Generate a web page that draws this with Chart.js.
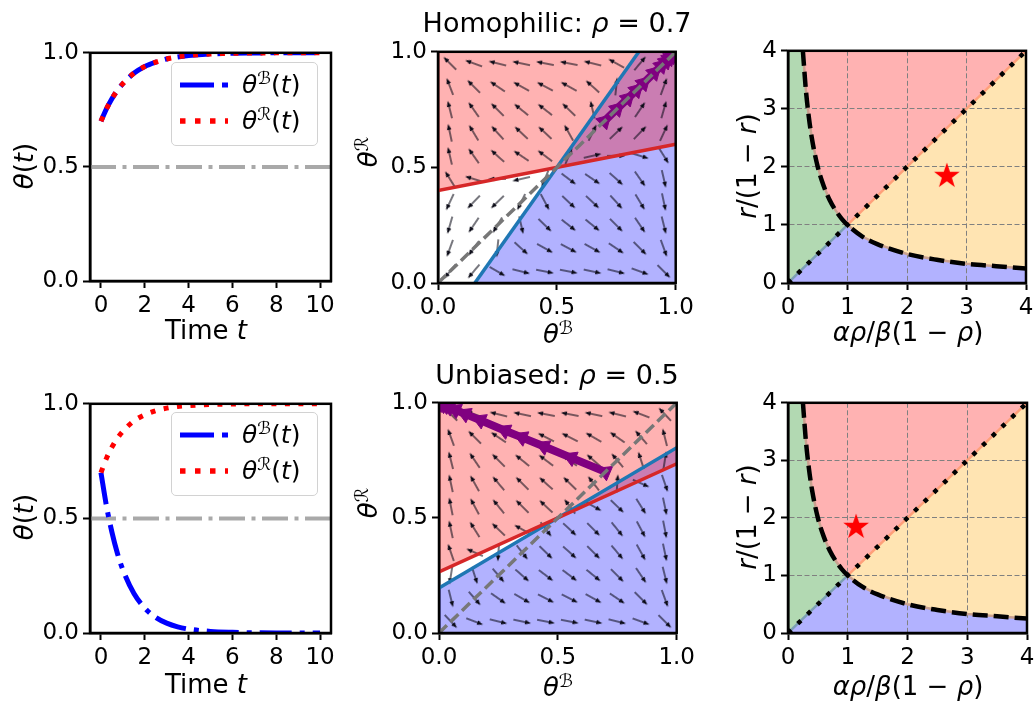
<!DOCTYPE html>
<html>
<head>
<meta charset="utf-8">
<script src="https://cdn.jsdelivr.net/npm/chart.js"></script>
<style>
  html, body { margin: 0; padding: 0; background: #fff; }
  #fig { position: relative; width: 1035px; height: 704px; overflow: hidden; font-family: 'DejaVu Sans', sans-serif; color: #000; }
  canvas { position: absolute; }
  .lbl { position: absolute; font-size: 26px; line-height: 1; white-space: nowrap; transform: translate(-50%, -50%); }
  .rot { transform: translate(-50%, -50%) rotate(-90deg); }
  .ttl { font-size: 27px; }
  .sup { font-size: 0.7em; position: relative; top: -0.5em; }
  .legend { position: absolute; width: 145px; height: 82px; border: 1.5px solid #d2d2d2; border-radius: 5px; background: rgba(255,255,255,0.8); }
  .legend svg { position: absolute; left: 8px; }
  .legend .txt { position: absolute; left: 70px; font-size: 25px; line-height: 1; white-space: nowrap; }
</style>
</head>
<body>
<div id="fig">
  <canvas id="c1"></canvas>
  <canvas id="c2"></canvas>
  <canvas id="c3"></canvas>
  <canvas id="c4"></canvas>
  <canvas id="c5"></canvas>
  <canvas id="c6"></canvas>

  <div class="lbl ttl" style="left:557px;top:22px">Homophilic: <i>ρ</i> = 0.7</div>
  <div class="lbl ttl" style="left:557px;top:374px">Unbiased: <i>ρ</i> = 0.5</div>

  <div class="lbl rot" style="left:24px;top:166px"><i>θ</i>(<i>t</i>)</div>
  <div class="lbl" style="left:206px;top:330px">Time <i>t</i></div>
  <div class="lbl rot" style="left:368px;top:152px"><i>θ</i><span class="sup">ℛ</span></div>
  <div class="lbl" style="left:558px;top:334px"><i>θ</i><span class="sup">ℬ</span></div>
  <div class="lbl rot" style="left:747px;top:166px"><i>r</i>/(1 − <i>r</i>)</div>
  <div class="lbl" style="left:908px;top:332px"><i>αρ</i>/<i>β</i>(1 − <i>ρ</i>)</div>

  <div class="lbl rot" style="left:24px;top:517px"><i>θ</i>(<i>t</i>)</div>
  <div class="lbl" style="left:206px;top:684px">Time <i>t</i></div>
  <div class="lbl rot" style="left:368px;top:503px"><i>θ</i><span class="sup">ℛ</span></div>
  <div class="lbl" style="left:558px;top:687px"><i>θ</i><span class="sup">ℬ</span></div>
  <div class="lbl rot" style="left:747px;top:517px"><i>r</i>/(1 − <i>r</i>)</div>
  <div class="lbl" style="left:908px;top:686px"><i>αρ</i>/<i>β</i>(1 − <i>ρ</i>)</div>

  <div class="legend" style="left:171px;top:62px">
    <svg width="50" height="8" style="top:18px"><line x1="0" y1="4" x2="48" y2="4" stroke="#0000ff" stroke-width="5" stroke-dasharray="34 8 6 8"/></svg>
    <div class="txt" style="top:9px"><i>θ</i><span class="sup">ℬ</span>(<i>t</i>)</div>
    <svg width="50" height="8" style="top:54px"><line x1="0" y1="4" x2="48" y2="4" stroke="#ff0000" stroke-width="5.5" stroke-dasharray="5.5 9.5"/></svg>
    <div class="txt" style="top:45px"><i>θ</i><span class="sup">ℛ</span>(<i>t</i>)</div>
  </div>
  <div class="legend" style="left:171px;top:412px">
    <svg width="50" height="8" style="top:18px"><line x1="0" y1="4" x2="48" y2="4" stroke="#0000ff" stroke-width="5" stroke-dasharray="34 8 6 8"/></svg>
    <div class="txt" style="top:9px"><i>θ</i><span class="sup">ℬ</span>(<i>t</i>)</div>
    <svg width="50" height="8" style="top:54px"><line x1="0" y1="4" x2="48" y2="4" stroke="#ff0000" stroke-width="5.5" stroke-dasharray="5.5 9.5"/></svg>
    <div class="txt" style="top:45px"><i>θ</i><span class="sup">ℛ</span>(<i>t</i>)</div>
  </div>
</div>

<script>
// ---------- values ----------
const timeT = [0, 0.25, 0.5, 0.75, 1, 1.5, 2, 2.5, 3, 3.5, 4, 5, 6, 7, 8, 9, 10];
const homoThetaB = [0.700, 0.754, 0.799, 0.835, 0.865, 0.910, 0.940, 0.959, 0.973, 0.982, 0.988, 0.995, 0.998, 0.999, 1, 1, 1];
const homoThetaR = [0.700, 0.754, 0.799, 0.835, 0.865, 0.910, 0.940, 0.959, 0.973, 0.982, 0.988, 0.995, 0.998, 0.999, 1, 1, 1];
const unbThetaB = [0.700, 0.555, 0.440, 0.348, 0.276, 0.173, 0.109, 0.068, 0.043, 0.027, 0.017, 0.007, 0.003, 0.001, 0, 0, 0];
const unbThetaR = [0.700, 0.762, 0.811, 0.850, 0.880, 0.925, 0.952, 0.970, 0.981, 0.988, 0.992, 0.997, 0.999, 1, 1, 1, 1];
const refLevel = 0.5;

const timeRange = [-0.5, 10.5];
const timeTicks = [0, 2, 4, 6, 8, 10];
const unitRange = [0, 1];
const unitTicks = [0, 0.5, 1];
const ratioRange = [0, 4];
const ratioTicks = [0, 1, 2, 3, 4];

// nullclines of the phase portraits (where they meet the frame)
const homoBlueLine = [{x: 0.155, y: 0}, {x: 0.845, y: 1}];
const homoRedLine = [{x: 0, y: 0.40}, {x: 1, y: 0.60}];
const unbBlueLine = [{x: 0, y: 0.195}, {x: 1, y: 0.805}];
const unbRedLine = [{x: 0, y: 0.265}, {x: 1, y: 0.735}];

// quiver: arrow direction (degrees, counter-clockwise) on a 10 x 10 grid, rows bottom -> top
const arrowGrid = [0.05, 0.15, 0.25, 0.35, 0.45, 0.55, 0.65, 0.75, 0.85, 0.95];
const homoArrowAngles = [
  [-129, -130, -30, -14, -11, -11, -12, -14, -20, -45],
  [-110, -126, -96, -42, -29, -28, -29, -34, -45, -70],
  [-106, -124, -121, -77, -44, -38, -39, -45, -56, -76],
  [-115, -134, -136, -116, -62, -43, -43, -48, -59, -78],
  [122, 163, 180, -167, -112, -37, -34, -42, -55, -77],
  [103, 125, 138, 146, 143, 68, 13, 0, -17, -58],
  [102, 121, 132, 137, 137, 119, 64, 44, 46, 65],
  [104, 125, 135, 141, 142, 136, 103, 59, 56, 74],
  [111, 135, 146, 151, 152, 151, 138, 84, 55, 70],
  [135, 160, 166, 168, 169, 169, 166, 151, 50, 51]
];
const unbArrowAngles = [
  [-47, -21, -14, -12, -11, -11, -12, -14, -20, -45],
  [-76, -49, -35, -30, -27, -27, -29, -34, -45, -70],
  [-99, -72, -50, -41, -37, -37, -39, -45, -56, -76],
  [109, 156, -94, -52, -44, -42, -45, -50, -61, -78],
  [102, 122, 136, 151, -53, -43, -45, -51, -62, -79],
  [101, 118, 129, 135, 137, 127, -29, -44, -58, -78],
  [102, 119, 130, 135, 138, 136, 128, 86, -24, -71],
  [104, 124, 135, 141, 143, 143, 139, 130, 108, 81],
  [110, 135, 146, 151, 153, 153, 150, 145, 131, 104],
  [135, 160, 166, 168, 169, 169, 168, 166, 159, 133]
];

// phase diagram: boundary curve r/(1-r) = 1 / x and the diagonal
const hypX = [0.25, 0.3, 0.35, 0.4, 0.5, 0.6, 0.7, 0.8, 0.9, 1, 1.25, 1.5, 2, 2.5, 3, 3.5, 4];
const hypY = [4, 3.33, 2.86, 2.5, 2, 1.67, 1.43, 1.25, 1.11, 1, 0.8, 0.67, 0.5, 0.4, 0.33, 0.29, 0.25];
const diagX = [0, 1, 4];
const homoStar = [{x: 2.67, y: 1.86}];
const unbStar = [{x: 1.14, y: 1.86}];

// ---------- layout ----------
const FONT = "'DejaVu Sans', sans-serif";
const YW = 72, PT = 16, PR = 20, XH = 40;
const areas = {
  c1: [90, 51, 331, 281], c2: [438, 50, 678, 283], c3: [788, 49, 1026, 283],
  c4: [90, 402, 331, 633], c5: [439, 401, 679, 633], c6: [788, 401, 1027, 633]
};

function place(id) {
  const a = areas[id];
  const cv = document.getElementById(id);
  const w = a[2] - a[0] + YW + PR, h = a[3] - a[1] + PT + XH;
  cv.width = w; cv.height = h;
  cv.style.left = (a[0] - YW) + 'px'; cv.style.top = (a[1] - PT) + 'px';
  cv.style.width = w + 'px'; cv.style.height = h + 'px';
  return cv;
}

const pts = (xs, ys) => xs.map((x, i) => ({x: x, y: ys[i]}));

function makeArrow() {
  const c = document.createElement('canvas');
  c.width = 18; c.height = 6;
  const g = c.getContext('2d');
  g.strokeStyle = '#0a0a16'; g.fillStyle = '#0a0a16'; g.lineWidth = 1.1;
  g.beginPath(); g.moveTo(0, 3); g.lineTo(13, 3); g.stroke();
  g.beginPath(); g.moveTo(12, 0.8); g.lineTo(18, 3); g.lineTo(12, 5.2); g.closePath(); g.fill();
  return c;
}
function makeStar() {
  const c = document.createElement('canvas');
  c.width = 28; c.height = 28;
  const g = c.getContext('2d');
  g.fillStyle = '#ff0000';
  g.beginPath();
  for (let k = 0; k < 10; k++) {
    const r = k % 2 ? 5.3 : 13.5;
    const t = -Math.PI / 2 + k * Math.PI / 5;
    g.lineTo(14 + r * Math.cos(t), 15 + r * Math.sin(t));
  }
  g.closePath(); g.fill();
  return c;
}
const arrowImg = makeArrow();
const starImg = makeStar();

const framePlugin = {
  id: 'frame',
  afterDraw(chart) {
    const {ctx, chartArea: a} = chart;
    ctx.save();
    ctx.strokeStyle = '#000'; ctx.lineWidth = 2.5;
    ctx.strokeRect(a.left, a.top, a.right - a.left, a.bottom - a.top);
    ctx.restore();
  }
};

function axis(pos, range, ticks, fmt, gridOn) {
  return {
    type: 'linear', position: pos, min: range[0], max: range[1],
    afterBuildTicks: s => { s.ticks = ticks.map(v => ({value: v})); },
    afterFit: s => { if (pos === 'left') s.width = YW; else s.height = XH; },
    ticks: { callback: v => fmt(v), color: '#000', font: {family: FONT, size: 23}, padding: 4, maxRotation: 0, autoSkip: false },
    grid: gridOn
      ? { drawOnChartArea: true, color: '#808080', lineWidth: 1, tickColor: '#000', tickLength: 7, tickWidth: 2 }
      : { drawOnChartArea: false, tickColor: '#000', tickLength: 7, tickWidth: 2 },
    border: { display: true, color: '#000', width: 2.5, dash: gridOn ? [5, 2.5] : [] }
  };
}
const f1 = v => v.toFixed(1);
const f0 = v => String(v);

function makeChart(id, datasets, xAx, yAx, fillTime) {
  return new Chart(place(id), {
    type: 'line',
    data: { datasets: datasets },
    options: {
      responsive: false, animation: false, events: [],
      layout: { padding: {left: 0, top: PT, right: PR, bottom: 0} },
      plugins: { legend: {display: false}, tooltip: {enabled: false}, filler: {drawTime: fillTime || 'beforeDatasetsDraw'} },
      scales: { x: xAx, y: yAx }
    },
    plugins: [framePlugin]
  });
}

// ---------- time series panels ----------
function timePanel(id, thB, thR) {
  makeChart(id, [
    { data: pts(timeRange, [refLevel, refLevel]), borderColor: '#a9a9a9', borderWidth: 4, borderDash: [26, 6.5, 4, 6.5], pointRadius: 0, clip: 0, order: 3 },
    { data: pts(timeT, thB), borderColor: '#0000ff', borderWidth: 5, borderDash: [32, 8, 5, 8], cubicInterpolationMode: 'monotone', pointRadius: 0, clip: 0, order: 2 },
    { data: pts(timeT, thR), borderColor: '#ff0000', borderWidth: 5, borderDash: [5, 8.5], cubicInterpolationMode: 'monotone', pointRadius: 0, clip: 0, order: 1 }
  ], axis('bottom', timeRange, timeTicks, f0, false), axis('left', unitRange, unitTicks, f1, false));
}
timePanel('c1', homoThetaB, homoThetaR);
timePanel('c4', unbThetaB, unbThetaR);

// ---------- phase portraits ----------
function quiver(angles) {
  const out = [];
  angles.forEach((row, j) => row.forEach((a, i) => out.push({x: arrowGrid[i], y: arrowGrid[j], a: a})));
  return out;
}
function trajStep(c) {
  const d = c.dataset.data, i = c.dataIndex, n = d[i + 1];
  return n ? {dx: n.x - d[i].x, dy: n.y - d[i].y} : {dx: 0, dy: 0};
}
function phasePanel(id, blueRegion, redRegion, blueLine, redLine, angles, thB, thR) {
  makeChart(id, [
    { data: blueRegion, fill: 'shape', backgroundColor: 'rgba(0,0,255,0.3)', showLine: false, pointRadius: 0, order: 10 },
    { data: redRegion, fill: 'shape', backgroundColor: 'rgba(255,0,0,0.3)', showLine: false, pointRadius: 0, order: 9 },
    { data: quiver(angles), showLine: false, pointStyle: arrowImg, pointRadius: 6, pointRotation: c => -c.raw.a, order: 6 },
    { data: blueLine, borderColor: '#1f77b4', borderWidth: 3.5, pointRadius: 0, order: 5 },
    { data: redLine, borderColor: '#d62728', borderWidth: 3.5, pointRadius: 0, order: 4 },
    { data: pts(thB, thR), borderColor: '#800080', borderWidth: 8, pointStyle: 'triangle',
      pointBackgroundColor: '#800080', pointBorderColor: '#800080', pointBorderWidth: 1,
      pointRadius: c => { const s = trajStep(c); return Math.hypot(s.dx, s.dy) > 0.004 ? 9 : 0; },
      pointRotation: c => { const s = trajStep(c); return Math.atan2(s.dx, s.dy) * 180 / Math.PI; },
      order: 2 },
    { data: pts(unitRange, unitRange), borderColor: '#777777', borderWidth: 3.5, borderDash: [11, 5], pointRadius: 0, order: 1 }
  ], axis('bottom', unitRange, unitTicks, f1, false), axis('left', unitRange, unitTicks, f1, false));
}
phasePanel('c2',
  [homoBlueLine[0], homoBlueLine[1], {x: 1, y: 1}, {x: 1, y: 0}],
  [homoRedLine[0], homoRedLine[1], {x: 1, y: 1}, {x: 0, y: 1}],
  homoBlueLine, homoRedLine, homoArrowAngles, homoThetaB, homoThetaR);
phasePanel('c5',
  [{x: 0, y: 0}, unbBlueLine[0], unbBlueLine[1], {x: 1, y: 0}],
  [unbRedLine[0], unbRedLine[1], {x: 1, y: 1}, {x: 0, y: 1}],
  unbBlueLine, unbRedLine, unbArrowAngles, unbThetaB, unbThetaR);

// ---------- phase diagrams ----------
const hyp = pts(hypX, hypY);
const iOne = hypX.indexOf(1);
const hypUpper = hyp.slice(0, iOne + 1);   // (0.25,4) -> (1,1)
const hypLower = hyp.slice(iOne);          // (1,1) -> (4,0.25)
const lo = ratioRange[0], hi = ratioRange[1];
const greenPoly = [{x: lo, y: lo}].concat(hypUpper.slice().reverse(), [{x: lo, y: hi}]);
const redPoly = [{x: hi, y: hi}].concat(hypUpper);
const orangePoly = [{x: hi, y: hi}].concat(hypLower.slice().reverse());
const bluePoly = [{x: lo, y: lo}].concat(hypLower, [{x: hi, y: lo}]);

function regimePanel(id, star) {
  makeChart(id, [
    { data: greenPoly, fill: 'shape', backgroundColor: 'rgba(0,128,0,0.3)', showLine: false, pointRadius: 0, order: 20 },
    { data: redPoly, fill: 'shape', backgroundColor: 'rgba(255,0,0,0.3)', showLine: false, pointRadius: 0, order: 19 },
    { data: orangePoly, fill: 'shape', backgroundColor: 'rgba(255,165,0,0.3)', showLine: false, pointRadius: 0, order: 18 },
    { data: bluePoly, fill: 'shape', backgroundColor: 'rgba(0,0,255,0.3)', showLine: false, pointRadius: 0, order: 17 },
    { data: hyp, borderColor: '#c9a18f', borderWidth: 2.5, pointRadius: 0, order: 9 },
    { data: pts(diagX.slice(0, 2), diagX.slice(0, 2)), borderColor: '#7d9fb5', borderWidth: 2.5, pointRadius: 0, order: 8 },
    { data: pts(diagX.slice(1), diagX.slice(1)), borderColor: '#ffa07a', borderWidth: 2.5, pointRadius: 0, order: 8 },
    { data: hyp, borderColor: '#000', borderWidth: 4.5, borderDash: [15, 6], cubicInterpolationMode: 'monotone', pointRadius: 0, order: 3 },
    { data: pts(diagX, diagX), borderColor: '#000', borderWidth: 4.5, borderDash: [4.5, 9], pointRadius: 0, order: 2 },
    { data: star, showLine: false, pointStyle: starImg, pointRadius: 12, order: 0 }
  ], axis('bottom', ratioRange, ratioTicks, f0, true), axis('left', ratioRange, ratioTicks, f0, true), 'beforeDraw');
}
regimePanel('c3', homoStar);
regimePanel('c6', unbStar);
</script>
</body>
</html>
